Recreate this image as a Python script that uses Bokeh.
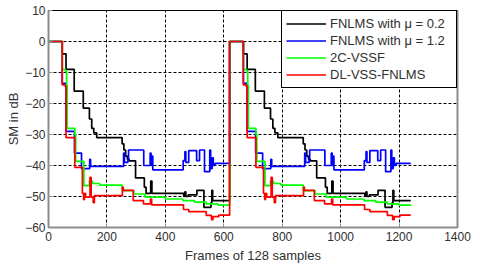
from bokeh.plotting import figure
from bokeh.models import LinearAxis, FixedTicker, Range1d
from bokeh.embed import file_html
from bokeh.resources import INLINE

# ---- data (frames, SM in dB), step-wise curves ----
black_x = [0, 47, 60, 88, 119, 140, 148, 155, 165, 252, 258, 264, 270, 276, 298, 328, 334, 350, 354,
           463, 467, 470, 478, 508, 532, 556, 559, 562,
           620, 667, 680, 708, 739, 760, 768, 775, 785, 872, 878, 884, 890, 896, 918, 948, 954, 970, 974,
           1083, 1087, 1090, 1098, 1128, 1152, 1176, 1179, 1182, 1240]
black_y = [0, -4, -9, -16, -21.5, -25, -28, -29.5, -31, -33, -35, -37, -38, -38.5, -44, -47, -49, -45, -49,
           -50, -48.5, -50, -49.5, -48, -53.5, -52, -48, -51.3,
           0, -4, -9, -16, -21.5, -25, -28, -29.5, -31, -33, -35, -37, -38, -38.5, -44, -47, -49, -45, -49,
           -50, -48.5, -50, -49.5, -48, -53.5, -52, -48, -51.3, -51.3]

blue_x = [0, 47, 60, 89, 113, 141, 144, 257, 260, 272, 274, 326, 348, 351, 354, 357, 461, 467, 470, 480,
          507, 517, 534, 552, 555, 560, 564, 570,
          620, 667, 680, 709, 733, 761, 764, 877, 880, 892, 894, 946, 968, 971, 974, 977, 1081, 1087, 1090,
          1100, 1127, 1137, 1154, 1172, 1175, 1180, 1184, 1190, 1240]
blue_y = [0, -13.5, -29, -36, -41, -38, -40.3, -36, -39, -38, -35, -40, -36, -40, -37, -41.4, -38.4, -35.5,
          -39, -35.2, -38.4, -35, -42, -35, -41, -37.5, -40, -39.3,
          0, -13.5, -29, -36, -41, -38, -40.3, -36, -39, -38, -35, -40, -36, -40, -37, -41.4, -38.4, -35.5,
          -39, -35.2, -38.4, -35, -42, -35, -41, -37.5, -40, -39.3, -39.3]

green_x = [0, 47, 58, 62, 64, 90, 93, 121, 140, 150, 175, 252, 292, 330, 400, 460, 500, 540, 580,
           620, 667, 678, 682, 684, 710, 713, 741, 760, 770, 795, 872, 912, 950, 1020, 1080, 1120, 1160,
           1200, 1240]
green_y = [0, -9, -9.5, -14, -28, -30, -38.7, -46.5, -45, -45.8, -46.3, -48.1, -49.2, -50.2, -50.8, -51.3,
           -51.8, -52.4, -52.8,
           0, -9, -9.5, -14, -28, -30, -38.7, -46.5, -45, -45.8, -46.3, -48.1, -49.2, -50.2, -50.8, -51.3,
           -51.8, -52.4, -52.8, -53]

red_x = [0, 47, 57, 60, 90, 116, 120, 123, 127, 142, 146, 153, 157, 253, 256, 290, 325, 349, 353, 462,
         480, 540, 558, 563, 583,
         620, 667, 677, 680, 710, 736, 740, 743, 747, 762, 766, 773, 777, 873, 876, 910, 945, 969, 973,
         1082, 1100, 1160, 1178, 1183, 1203, 1240]
red_y = [0, -14, -14.5, -31, -40.6, -49, -51, -49, -50.2, -43.8, -50.2, -52, -49.7, -47, -48, -51.3, -52.4,
         -50.8, -52.7, -54.2, -54.9, -56.1, -57.5, -56.5, -56,
         0, -14, -14.5, -31, -40.6, -49, -51, -49, -50.2, -43.8, -50.2, -52, -49.7, -47, -48, -51.3, -52.4,
         -50.8, -52.7, -54.2, -54.9, -56.1, -57.5, -56.5, -56, -56]

series_labels = ["FNLMS with \u03bc = 0.2", "FNLMS with \u03bc = 1.2", "2C-VSSF", "DL-VSS-FNLMS"]
x_ticks = [0, 200, 400, 600, 800, 1000, 1200, 1400]
y_ticks = [-60, -50, -40, -30, -20, -10, 0, 10]

FONT = "Liberation Sans"
TXT = "#303030"
AX = "#8c8c8c"

p = figure(width=480, height=275, output_backend="svg", toolbar_location=None,
           x_range=Range1d(0, 1400), y_range=Range1d(-60, 10),
           min_border_left=48, min_border_right=23, min_border_top=10, min_border_bottom=48)
p.background_fill_color = "white"
p.border_fill_color = "white"
p.outline_line_color = "black"
p.outline_line_width = 1

series = [(black_x, black_y, "#000000"), (blue_x, blue_y, "#0000ff"),
          (green_x, green_y, "#00ff00"), (red_x, red_y, "#ff0000")]
for (xs, ys, col), lab in zip(series, series_labels):
    p.step(xs, ys, mode="after", line_color=col, line_width=1.7, legend_label=lab)

for ax, ticks in ((p.xaxis, x_ticks), (p.yaxis, y_ticks)):
    ax.ticker = FixedTicker(ticks=ticks)
    ax.major_label_text_font = FONT
    ax.major_label_text_font_size = "12px"
    ax.major_label_text_color = TXT
    ax.axis_label_text_font = FONT
    ax.axis_label_text_font_size = "13px"
    ax.axis_label_text_font_style = "normal"
    ax.axis_label_text_color = TXT
    ax.axis_line_color = AX
    ax.axis_line_width = 2
    ax.major_tick_in = 4
    ax.major_tick_out = 0
    ax.major_tick_line_color = AX
    ax.minor_tick_line_color = None
    ax.major_label_standoff = 4
    ax.axis_label_standoff = 4

p.yaxis.major_label_standoff = 3
p.yaxis.axis_label_standoff = 1
p.xaxis.axis_label = "Frames of 128 samples"
p.yaxis.axis_label = "SM in dB"

right = LinearAxis(ticker=FixedTicker(ticks=[]), axis_line_color=AX, axis_line_width=2,
                   major_label_text_font_size="0px", major_label_standoff=0,
                   major_tick_in=0, major_tick_out=0, minor_tick_line_color=None)
p.add_layout(right, "right")

p.xgrid.ticker = FixedTicker(ticks=x_ticks)
p.ygrid.ticker = FixedTicker(ticks=y_ticks)
for g in (p.xgrid, p.ygrid):
    g.grid_line_color = "black"
    g.grid_line_alpha = 1.0
    g.grid_line_width = 1
    g.grid_line_dash = "3 2"

lg = p.legend[0]
lg.location = "top_right"
lg.margin = 0
lg.border_line_color = "black"
lg.border_line_width = 1
lg.border_line_alpha = 1
lg.background_fill_alpha = 1
lg.label_text_font = FONT
lg.label_text_font_size = "13px"
lg.label_text_color = TXT
lg.glyph_width = 40
lg.glyph_height = 17
lg.label_height = 17
lg.label_width = 122
lg.label_standoff = 4
lg.padding = 4
lg.spacing = 0

open("out.html", "w").write(file_html(p, INLINE))
